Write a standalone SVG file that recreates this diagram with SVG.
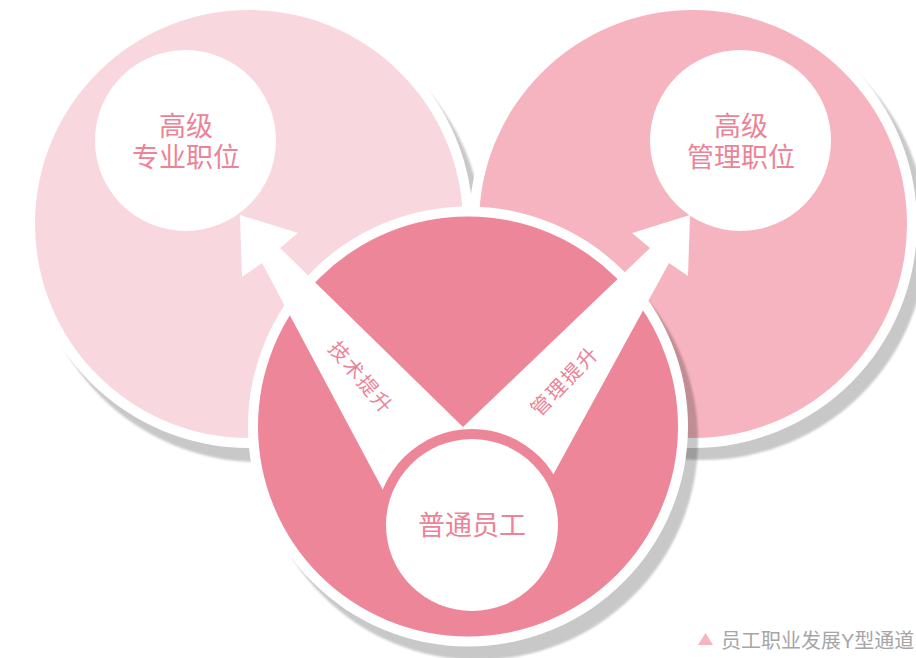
<svg xmlns="http://www.w3.org/2000/svg" width="916" height="658" viewBox="0 0 916 658">
  <defs>
    <filter id="soft" x="-10%" y="-10%" width="120%" height="120%">
      <feGaussianBlur stdDeviation="1.2"/>
    </filter>
    <style>
      .shadow { fill: #000; opacity: 0.21; filter: url(#soft); }
      .ring { fill: #ffffff; }
      .inner { fill: #ffffff; }
      .label { font-family: "Liberation Sans", "Noto Sans CJK SC", sans-serif; font-size: 27px; fill: #EC8397; text-anchor: middle; }
      .conn-label { font-family: "Liberation Sans", "Noto Sans CJK SC", sans-serif; font-size: 20px; fill: #EC8397; text-anchor: middle; dominant-baseline: central; letter-spacing: 2px; }
      .arrow { fill: #ffffff; }
      .caption { font-family: "Liberation Sans", "Noto Sans CJK SC", sans-serif; font-size: 20px; fill: #A6A6A6; }
    </style>
  </defs>

  <!-- background circles -->
  <g id="backdrop">
    <circle class="shadow" cx="259" cy="238" r="224"/>
    <circle class="ring" cx="249" cy="224" r="224"/>
    <circle cx="249" cy="224" r="214" fill="#F9D7DE"/>

    <circle class="shadow" cx="703" cy="236" r="224"/>
    <circle class="ring" cx="693" cy="224" r="224"/>
    <circle cx="693" cy="224" r="214" fill="#F5B4BF"/>

    <circle class="shadow" cx="478" cy="440" r="220"/>
    <circle class="ring" cx="468" cy="426.5" r="220"/>
    <circle cx="468" cy="426.5" r="210" fill="#EC8698"/>
  </g>

  <g id="node-senior-pro">
    <circle class="inner" cx="185.5" cy="140.5" r="90.5"/>
    <text class="label" x="186" y="136">高级</text>
    <text class="label" x="186" y="167">专业职位</text>
  </g>

  <g id="node-senior-mgmt">
    <circle class="inner" cx="740.5" cy="140.5" r="90.5"/>
    <text class="label" x="741" y="136">高级</text>
    <text class="label" x="741" y="167">管理职位</text>
  </g>

  <g id="connectors">
    <polygon class="arrow" points="383,490 262,263 242,277 240,215 298,233 280,248 463,427 472,525"/>
    <polygon class="arrow" points="553,475 669,263 688,276 690,215 632,233 650,248 463,427 472,525"/>
    <text class="conn-label" transform="translate(361,378) rotate(50)">技术提升</text>
    <text class="conn-label" transform="translate(565,381) rotate(-46)">管理提升</text>
  </g>

  <g id="node-staff">
    <circle cx="472" cy="525" r="96" fill="#EC8698"/>
    <circle class="inner" cx="472" cy="525" r="86"/>
    <text class="label" x="472" y="535">普通员工</text>
  </g>

  <g id="legend">
    <polygon points="705.5,633 698,645 713,645" fill="#F5B4BF"/>
    <text class="caption" x="721" y="648">员工职业发展Y型通道</text>
  </g>
</svg>
